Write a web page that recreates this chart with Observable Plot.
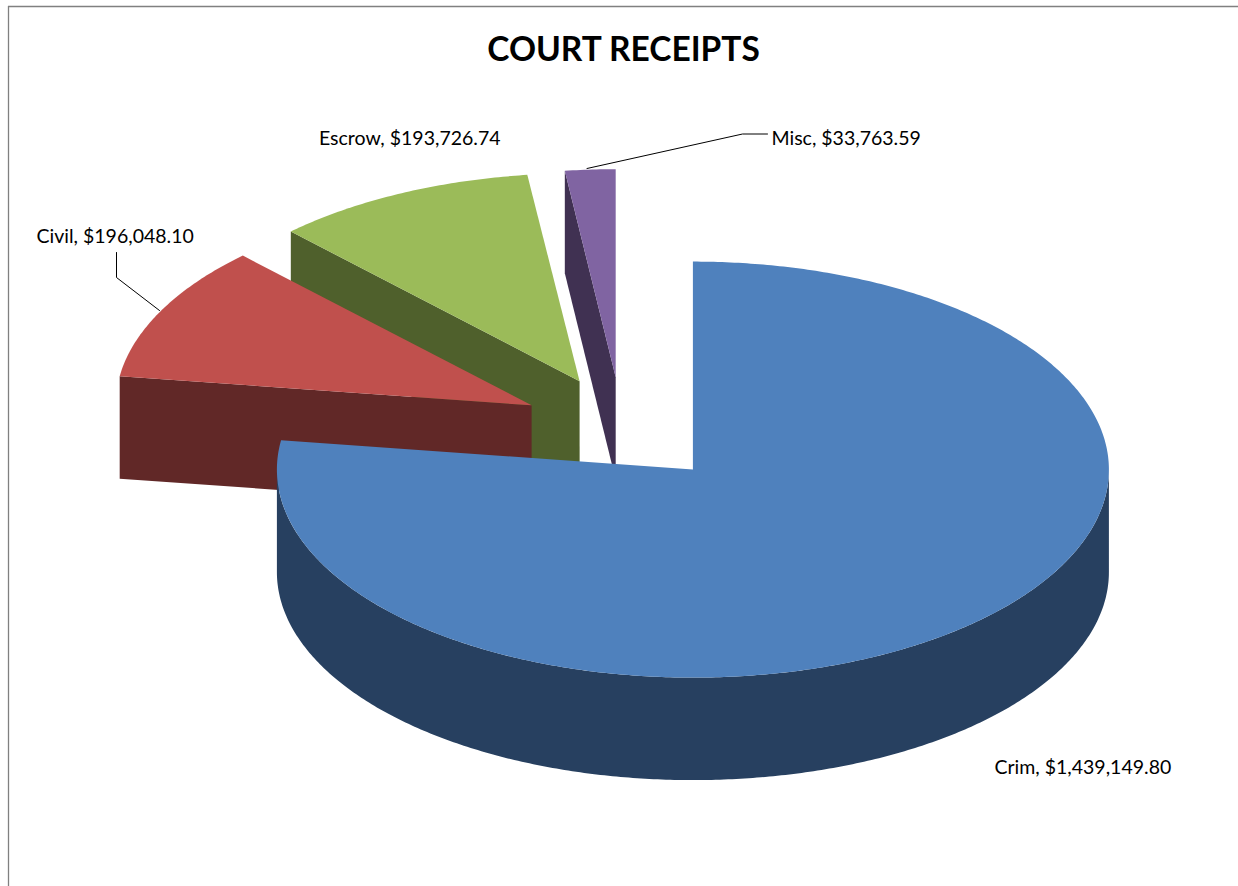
<!DOCTYPE html>
<html>
<head>
<meta charset="utf-8">
<script src="https://cdn.jsdelivr.net/npm/d3@7"></script>
<script src="https://cdn.jsdelivr.net/npm/@observablehq/plot@0.6"></script>
<style>html,body{margin:0;padding:0;background:#fff;overflow:hidden}svg{display:block}</style>
</head>
<body>
<div id="chart"></div>
<script>
// Data
const categories = ["Crim", "Civil", "Escrow", "Misc"];
const receipts = [1439149.80, 196048.10, 193726.74, 33763.59];
const chartTitle = "COURT RECEIPTS";

// Style
const topColors = ["#4F81BD", "#C0504D", "#9BBB59", "#8064A2"];
const sideColors = ["#274060", "#612827", "#4F602C", "#403152"];

// Layout: apex of each slice, in picture units, pie radii and thickness
const apexX = [692.4, 531.1, 579.1, 615.2];
const apexY = [469.1, 404.8, 380.7, 376.7];
const RX = 416, RY = 208, DEPTH = 102.5;
// small corrections of the drawn projection, in degrees, per slice edge
const startNudge = [0, -0.1, 0, -0.5];
const endNudge = [0, 0, -0.7, 0];
const labelX = [994, 36, 318.5, 771];
const labelY = [767.5, 236.5, 138.5, 138.5];
const labelFont = 19.5;

const total = d3.sum(receipts);
const fmt = v => "$" + d3.format(",.2f")(v);
const rad = Math.PI / 180;

// Slice angles (clockwise from 12 o'clock) come from the values
let acc = 0;
const slices = categories.map((name, i) => {
  const a0 = acc / total * 2 * Math.PI + startNudge[i] * rad;
  acc += receipts[i];
  const a1 = acc / total * 2 * Math.PI + endNudge[i] * rad;
  return {name, value: receipts[i], a0, a1, cx: apexX[i], cy: apexY[i], i};
});
const pt = (s, a, dz = 0) => ({x: s.cx + RX * Math.sin(a), y: s.cy - RY * Math.cos(a) + dz});
const arc = (s, a0, a1, dz = 0) => {
  const n = Math.max(2, Math.ceil(Math.abs(a1 - a0) / 0.01));
  return d3.range(n + 1).map(k => pt(s, a0 + (a1 - a0) * k / n, dz));
};
const topFace = s => [{x: s.cx, y: s.cy}, ...arc(s, s.a0, s.a1), {x: s.cx, y: s.cy}];
const cutFace = (s, a) => {
  const p = pt(s, a);
  return [{x: s.cx, y: s.cy}, p, {x: p.x, y: p.y + DEPTH}, {x: s.cx, y: s.cy + DEPTH}, {x: s.cx, y: s.cy}];
};
const rimFace = (s, a0, a1) => [...arc(s, a0, a1), ...arc(s, a1, a0, DEPTH)];

const poly = (points, fill) => Plot.line(points, {
  x: "x", y: "y", fill, stroke: "none", curve: "linear-closed"
});

const [crim, civil, escrow, misc] = slices;
const marks = [
  // chart frame
  Plot.ruleX([8], {y1: 6, y2: 886, stroke: "#808080", strokeWidth: 1.3}),
  Plot.ruleY([6], {x1: 8, x2: 1238, stroke: "#808080", strokeWidth: 1.3}),

  // exploded slices, back to front
  poly(cutFace(misc, misc.a0), sideColors[3]),
  poly(topFace(misc), topColors[3]),
  poly(cutFace(escrow, escrow.a0), sideColors[2]),
  poly(topFace(escrow), topColors[2]),
  poly(cutFace(civil, civil.a0), sideColors[1]),
  poly(topFace(civil), topColors[1]),

  // main slice
  poly(rimFace(crim, Math.PI / 2, 1.5 * Math.PI), sideColors[0]),
  poly(topFace(crim), topColors[0]),

  // leader lines
  Plot.line([{x: 116, y: 252}, {x: 116, y: 277}, {x: 159, y: 310}], {x: "x", y: "y", stroke: "#000", strokeWidth: 1}),
  Plot.line([{x: 767, y: 133.5}, {x: 742, y: 133.5}, {x: 586.5, y: 168}], {x: "x", y: "y", stroke: "#000", strokeWidth: 1}),

  // labels
  Plot.text(slices, {
    x: d => labelX[d.i], y: d => labelY[d.i],
    text: d => `${d.name}, ${fmt(d.value)}`,
    textAnchor: "start", fill: "#000", fontSize: labelFont, lineAnchor: "middle",
    fontFamily: "Lato"
  }),
  Plot.text([chartTitle], {
    x: [623], y: [49.5], text: d => d,
    textAnchor: "middle", fill: "#000", fontSize: 33.5, fontWeight: 700, lineAnchor: "middle",
    fontFamily: "Lato"
  })
];

const chart = Plot.plot({
  width: 1238, height: 886,
  margin: 0,
  x: {domain: [0, 1238], range: [0, 1238], axis: null},
  y: {domain: [0, 886], range: [0, 886], axis: null},
  style: {background: "#fff", overflow: "hidden"},
  marks
});
document.getElementById("chart").appendChild(chart);
</script>
</body>
</html>
